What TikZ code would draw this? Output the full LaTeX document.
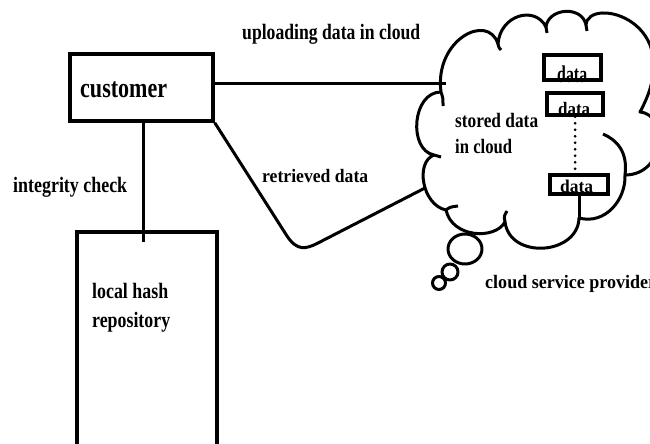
\documentclass[tikz,border=0pt]{standalone}
\usepackage{fontspec}
\setmainfont{Liberation Serif}
\newcommand\mylbl[3]{\resizebox{#1pt}{\height}{\fontsize{#2pt}{#2pt}\selectfont\bfseries #3}}
\begin{document}
\begin{tikzpicture}[x=1pt,y=-1pt,
  box/.style={draw, line width=3.5pt, inner sep=0pt},
  conn/.style={line width=3pt},
  cloudline/.style={line width=3pt, line join=round},
  dotline/.style={line width=3pt, line cap=round, dash pattern=on 0pt off 6.5pt},
  lbl/.style={inner sep=0pt, anchor=base west}]
\useasboundingbox (0,0) rectangle (650,444);
\fill[white] (0,0) rectangle (650,444);
\clip (0,0) rectangle (650,444);

% boxes
\node[box, minimum width=143pt, minimum height=67pt] (customer) at (141.5,87.5) {};
\node[box, minimum width=140pt, minimum height=240pt] (hash) at (147,352) {};
\node[box, minimum width=57pt, minimum height=25pt] (d1) at (572.5,67.5) {};
\node[box, minimum width=56pt, minimum height=22pt] (d2) at (575,104) {};
\node[box, minimum width=58pt, minimum height=19pt] (d3) at (579,184.5) {};

% cloud outline
\draw[cloudline] (441,92)
 .. controls (434,40) and (488,12) .. (498,44)
 .. controls (500,15) and (535,5) .. (546,27)
 .. controls (548,8) and (582,5) .. (586,25)
 .. controls (588,-5) and (690,20) .. (640,112)
 .. controls (670,115) and (665,175) .. (625,175)
 .. controls (626,200) and (605,225) .. (579,218)
 .. controls (578,255) and (510,260) .. (505,222)
 .. controls (495,240) and (452,238) .. (446,210)
 .. controls (422,205) and (415,162) .. (434,155)
 .. controls (408,150) and (412,92) .. (441,92);
% inner hooks of the cloud
\draw[cloudline] (441,92) .. controls (443,98) .. (443,106);
\draw[cloudline] (498,44) .. controls (499,48) .. (501,50);
\draw[cloudline] (546,27) .. controls (546,30) .. (547,33);
\draw[cloudline] (586,25) .. controls (586,28) .. (587,31);
\draw[cloudline] (625,175) .. controls (628,152) and (617,140) .. (603,134);
\draw[cloudline] (505,222) .. controls (504,216) .. (507,211);
\draw[cloudline] (446,210) .. controls (450,207) .. (458,206);
\draw[cloudline] (434,155) .. controls (437,156) .. (441,157);
% thought bubbles
\draw[cloudline] (465,249) ellipse [x radius=17pt, y radius=15pt];
\draw[cloudline] (450,272) circle [radius=8pt];
\draw[cloudline] (439,283) circle [radius=6.5pt];

% named end points
\coordinate (cloudUp) at (446,83);
\coordinate (cloudRet) at (425,188);
\coordinate (hashIn) at (143,242);
\coordinate (c7) at (579,218);

% connectors
\draw[conn] (customer.east |- cloudUp) -- (cloudUp);
\draw[conn] (customer.south -| hashIn) -- (hashIn);
\draw[conn, line join=round] (customer.south east) -- (287,236)
  .. controls (297,251) and (305.5,249.4) .. (318,243) -- (cloudRet);
\draw[dotline] (d2.south) -- (d2.south |- d3.north);
\draw[conn] (d3.south) -- (c7);

% labels
\node[lbl] (tup) at (242,40) {\mylbl{178}{22}{uploading data in cloud}};
\node[lbl] (tcust) at (80,97) {\mylbl{87}{28}{customer}};
\node[lbl] (tint) at (13,192) {\mylbl{114}{22}{integrity check}};
\node[lbl] (tret) at (262,182) {\mylbl{106}{19}{retrieved data}};
\node[lbl] (tst1) at (455,127) {\mylbl{83}{20.5}{stored data}};
\node[lbl] (tst2) at (455,153) {\mylbl{57}{20.5}{in cloud}};
\node[lbl] (th1) at (92,298) {\mylbl{76}{22}{local hash}};
\node[lbl] (th2) at (92,327) {\mylbl{78}{22}{repository}};
\node[lbl] (tcsp) at (485,288) {\mylbl{171}{19}{cloud service provider}};
\node[lbl] (td1) at (557,82) {\mylbl{30}{24}{data}};
\node[lbl] (td2) at (558,115) {\mylbl{32}{19}{data}};
\node[lbl] (td3) at (560,192) {\mylbl{33}{18}{data}};
\end{tikzpicture}
\end{document}
